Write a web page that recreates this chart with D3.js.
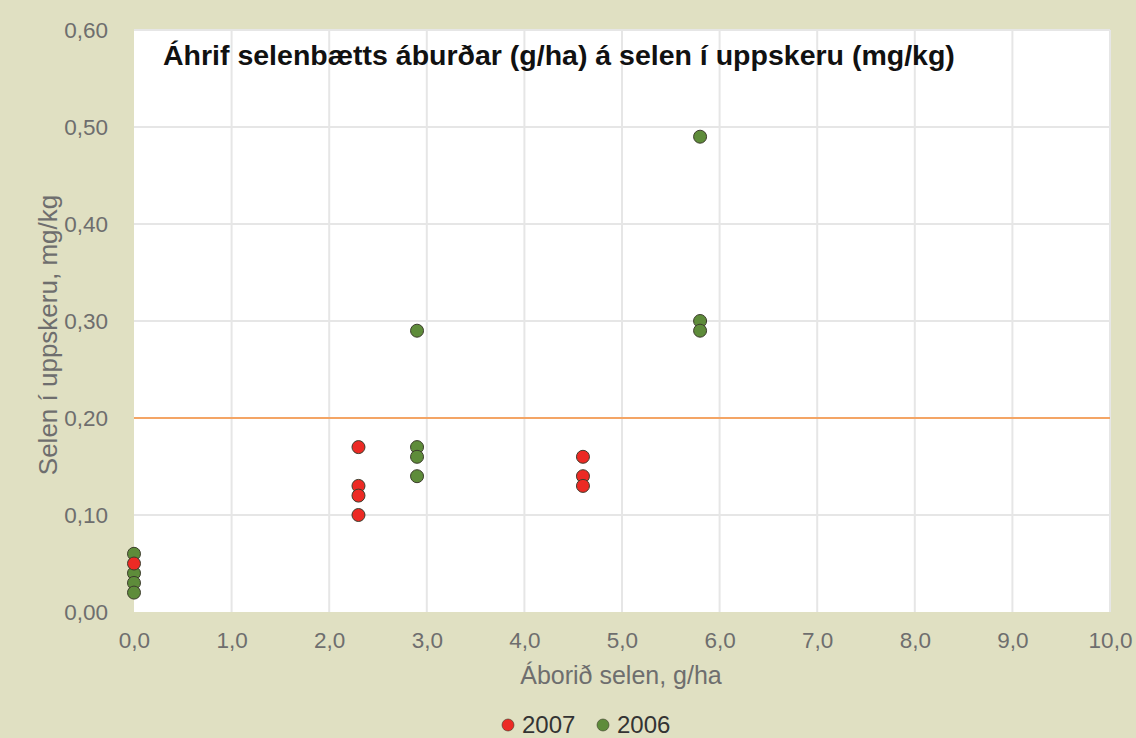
<!DOCTYPE html>
<html><head><meta charset="utf-8">
<script src="https://cdn.jsdelivr.net/npm/d3@7"></script>
<style>
html,body{margin:0;padding:0;background:#e0e0c2;}
svg{display:block;font-family:"Liberation Sans",Arial,sans-serif;}
</style></head><body>
<svg id="chart" width="1136" height="738"></svg>
<script>
const title = "Áhrif selenbætts áburðar (g/ha) á selen í uppskeru (mg/kg)";
const xLabel = "Áborið selen, g/ha";
const yLabel = "Selen í uppskeru, mg/kg";
const xTicks = [0,1,2,3,4,5,6,7,8,9,10];
const yTicks = [0,0.1,0.2,0.3,0.4,0.5,0.6];
const refLine = 0.2;
const series2007x = [0, 2.3, 2.3, 2.3, 2.3, 4.6, 4.6, 4.6];
const series2007y = [0.05, 0.17, 0.13, 0.12, 0.10, 0.16, 0.14, 0.13];
const series2006x = [0, 0, 0, 0, 2.9, 2.9, 2.9, 2.9, 5.8, 5.8, 5.8];
const series2006y = [0.06, 0.04, 0.03, 0.02, 0.29, 0.17, 0.16, 0.14, 0.49, 0.30, 0.29];
const legendNames = ["2007", "2006"];

const svg = d3.select("#chart");
const W = 1136, H = 738;
svg.append("rect").attr("width",W).attr("height",H).attr("fill","#e0e0c2");
const m = {left:134, right:1110, top:30, bottom:612};
const x = d3.scaleLinear().domain([0,10]).range([m.left, m.right]);
const y = d3.scaleLinear().domain([0,0.6]).range([m.bottom, m.top]);

svg.append("rect").attr("x",m.left).attr("y",m.top).attr("width",m.right-m.left).attr("height",m.bottom-m.top).attr("fill","#ffffff");

const fmt = v => d3.format(".2f")(v).replace(".",",");
const fmtx = v => d3.format(".1f")(v).replace(".",",");

// grid
svg.append("g").selectAll("line").data(xTicks.slice(1)).join("line")
  .attr("x1",d=>x(d)).attr("x2",d=>x(d)).attr("y1",m.top).attr("y2",m.bottom)
  .attr("stroke","#e6e6e6").attr("stroke-width",2);
svg.append("g").selectAll("line").data(yTicks.slice(1)).join("line")
  .attr("x1",m.left).attr("x2",m.right).attr("y1",d=>y(d)).attr("y2",d=>y(d))
  .attr("stroke","#e6e6e6").attr("stroke-width",2);

// axes
const xAxis = svg.append("g").attr("transform",`translate(0,${m.bottom})`)
  .call(d3.axisBottom(x).tickValues(xTicks).tickFormat(fmtx).tickSize(0).tickPadding(20));
xAxis.select(".domain").remove();
xAxis.selectAll("text").attr("fill","#6e6e6e").attr("font-size",22.5);

const yAxis = svg.append("g").attr("transform",`translate(${m.left},0)`)
  .call(d3.axisLeft(y).tickValues(yTicks).tickFormat(fmt).tickSize(0).tickPadding(26));
yAxis.select(".domain").remove();
yAxis.selectAll("text").attr("fill","#6e6e6e").attr("font-size",22.5);

// ref line
svg.append("line").attr("x1",m.left).attr("x2",m.right).attr("y1",y(refLine)).attr("y2",y(refLine))
  .attr("stroke","#f4a565").attr("stroke-width",2);

// points
const d2007 = series2007x.map((v,i)=>({x:v,y:series2007y[i]}));
const d2006 = series2006x.map((v,i)=>({x:v,y:series2006y[i]}));
const drawPts = (data, fill) => svg.append("g").selectAll("circle").data(data).join("circle")
  .attr("cx",d=>x(d.x)).attr("cy",d=>y(d.y)).attr("r",6.5)
  .attr("fill",fill).attr("stroke","#3d3d2d").attr("stroke-width",1);
drawPts(d2006, "#5e8c3a");
drawPts(d2007, "#ec2a24");

// title
svg.append("text").attr("x",163).attr("y",65).attr("font-size",28.5).attr("font-weight","bold")
  .attr("fill","#111").text(title);

// axis labels
svg.append("text").attr("x",621).attr("y",684).attr("text-anchor","middle")
  .attr("font-size",25).attr("fill","#6e6e6e").text(xLabel);
svg.append("text").attr("transform",`translate(57,335) rotate(-90)`).attr("text-anchor","middle")
  .attr("font-size",26).attr("fill","#6e6e6e").text(yLabel);

// legend
const lg = svg.append("g");
const legendColors = ["#ec2a24","#5e8c3a"];
const lx = [508, 603];
legendNames.forEach((n,i)=>{
  lg.append("circle").attr("cx",lx[i]).attr("cy",725).attr("r",6).attr("fill",legendColors[i]).attr("stroke","#3d3d2d").attr("stroke-width",0.6);
  lg.append("text").attr("x",lx[i]+14).attr("y",733).attr("font-size",24).attr("fill","#333").text(n);
});
</script></body></html>
